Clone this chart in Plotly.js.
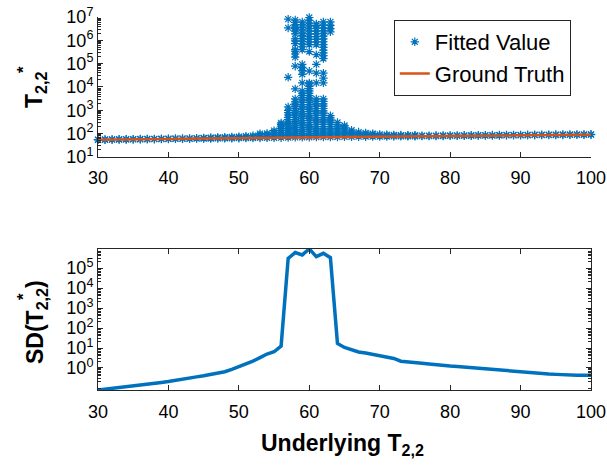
<!DOCTYPE html>
<html>
<head>
<meta charset="utf-8">
<script src="https://cdn.plot.ly/plotly-3.0.1.min.js"></script>
<style>
  html, body { margin: 0; padding: 0; background: #fff; }
  #chart { width: 607px; height: 468px; }
</style>
</head>
<body>
<div id="chart"></div>
<script>
// Underlying T2,2 values (one column of fits per value)
const underlying = [30,31,32,33,34,35,36,37,38,39,40,41,42,43,44,45,46,47,48,49,
  50,51,52,53,54,55,56,57,58,59,60,61,62,63,64,65,66,67,68,69,
  70,71,72,73,74,75,76,77,78,79,80,81,82,83,84,85,86,87,88,89,
  90,91,92,93,94,95,96,97,98,99,100];

// Fitted T*2,2 values for each underlying value
const fittedValues = [
  [54,56],[54.5,56.5],[55,57],[55.5,57.5],[56,58],[56.5,58.5],[57,59],[57.5,59.5],[58,60],[58.5,60.5],
  [59,61.5],[59.5,62],[60,62.5],[60.5,63],[61,64],[61.5,64,66],[62,65,67],[62.5,65,69],[63,66,71],[63.5,67,72],
  [64,68,74],[64.5,70,78],[65,72,82],[65.5,75,88,100],[66,76,90,102],[66.5,78,95,115,135],
  [67,80,95,115,140,170,210,250,290],
  [68,80,95,115,140,170,210,260,320,400,500,630,800,1000,1400,2.6e4,3.4e6,8.1e6],
  [69,82,100,120,145,180,220,270,330,400,500,620,780,950,1200,1500,1850,2300,3100,8300,7.8e4,
   1.9e5,2.6e5,3.4e5,4.0e5,7.2e5,9.5e5,1.15e6,1.9e6,2.5e6,3.2e6,3.7e6,4.6e6,5.8e6,7.4e6],
  [70,85,100,125,150,185,230,290,360,450,560,700,880,1100,1400,1750,2200,2800,3500,4400,5500,6800,
   1.5e4,3.5e4,5e4,7e4,9.3e4,4e5,5.3e5,7e5,9e5,1.2e6,1.6e6,2.1e6,2.8e6,3.6e6,4.7e6,6.2e6],
  [70,85,100,125,155,190,240,300,370,460,580,720,900,1130,1400,1750,2200,2750,3450,4300,5400,6800,8500,1.07e4,1.35e4,
   1.5e4,4.8e4,3.3e5,6.6e5,8.5e5,1.1e6,1.45e6,1.9e6,2.5e6,3.2e6,4.2e6,5.5e6,7.2e6,9.5e6],
  [71,86,105,130,160,200,250,310,390,490,610,760,950,1200,1500,1900,2400,3100,
   1.5e4,3.9e4,9.3e4,2.45e5,6.6e5,8.5e5,1.1e6,1.45e6,1.9e6,2.5e6,3.3e6,4.3e6,5e6],
  [71,87,105,130,160,200,250,310,390,490,610,760,950,1200,1500,1900,2400,3100,
   1.5e4,2.4e4,3.9e4,1.66e5,2.2e5,2.9e5,3.8e5,5e5,6.6e5,8.7e5,1.15e6,1.5e6,2e6,2.6e6,3.4e6,4.5e6,6.2e6],
  [72,88,108,130,160,200,250,310,380,470,590,2.3e6,3.2e6,4.4e6,6.2e6],
  [72,88,108,130,160,200,245,300],
  [73,88,108,130,160,190,224],
  [73,86,102,120,140],
  [74,86,100,117],
  [74,85,96,107],
  [75,85,95,100],
  [75,84,93],[75.5,83,90],[76,82,88],[76.5,82,87],[77,82,86],[77.5,82,86],
  [78,82],[78.5,82.5],[79,83],[79.5,83.5],[80,84],[80.5,84.5],[81,85],[81.5,85.5],[82,86],[82.5,86.5],
  [83,87],[83.5,87.5],[84,88],[84.5,88.5],[85,89],[85.5,89.5],[86,90],[86.5,90.5],[87,91],[87.5,91.5],
  [88,92],[88.5,92.5],[89,93],[89.5,93.5],[90,94]
];

// Ground truth line
const truthX = [30,40,50,60,70,80,90,100];
const truthY = [55,60,65,70,75,80,85,90];

// Standard deviation of the fitted values
const sdValues = [0.079,0.088,0.097,0.107,0.117,0.13,0.14,0.155,0.17,0.19,
  0.21,0.235,0.27,0.31,0.36,0.41,0.47,0.54,0.65,0.85,
  1.16,1.6,2.2,3.3,5.0,6.5,12.6,3.0e5,5.9e5,4.5e5,
  9.0e5,3.7e5,5.4e5,3.3e5,17,10.7,7.9,6.3,5.6,4.8,
  4.2,3.5,3.0,2.2,2.1,2.0,1.75,1.6,1.45,1.35,
  1.26,1.2,1.12,1.05,0.98,0.85,0.82,0.78,0.74,0.7,
  0.66,0.6,0.54,0.53,0.5,0.48,0.45,0.43,0.43,0.43,0.43];

const xTicks = [30,40,50,60,70,80,90,100];
const topTickVals = [1e1,1e2,1e3,1e4,1e5,1e6,1e7];
const topTickText = ['10<sup>1</sup>','10<sup>2</sup>','10<sup>3</sup>','10<sup>4</sup>','10<sup>5</sup>','10<sup>6</sup>','10<sup>7</sup>'];
const sdTickVals = [1e0,1e1,1e2,1e3,1e4,1e5];
const sdTickText = ['10<sup>0</sup>','10<sup>1</sup>','10<sup>2</sup>','10<sup>3</sup>','10<sup>4</sup>','10<sup>5</sup>'];

// minor log ticks (2..9 within each decade) between lo and hi
function logMinorTicks(lo, hi) {
  const out = [];
  for (let e = Math.floor(Math.log10(lo)); e <= Math.ceil(Math.log10(hi)); e++) {
    for (let m = 2; m <= 9; m++) {
      const v = m * Math.pow(10, e);
      if (v >= lo && v <= hi) out.push(v);
    }
  }
  return out;
}

const blue = '#0072BD';
const orange = '#D95319';
const axisColor = '#262626';
const fontFamily = '"Liberation Sans", Arial, Helvetica, sans-serif';

const scatterX = [];
const scatterY = [];
underlying.forEach((u, i) => {
  fittedValues[i].forEach(v => { scatterX.push(u); scatterY.push(v); });
});

const traces = [
  {
    x: scatterX, y: scatterY, type: 'scatter', mode: 'markers', name: 'Fitted Value',
    xaxis: 'x', yaxis: 'y', cliponaxis: false,
    marker: { symbol: 'asterisk-open', size: 7, color: blue, line: { color: blue, width: 1.2 } }
  },
  {
    x: truthX, y: truthY, type: 'scatter', mode: 'lines', name: 'Ground Truth',
    xaxis: 'x', yaxis: 'y', line: { color: orange, width: 2.5 }
  },
  {
    x: underlying, y: sdValues, type: 'scatter', mode: 'lines', showlegend: false,
    xaxis: 'x2', yaxis: 'y2', line: { color: blue, width: 3.5 }
  }
];

const axisCommon = {
  showgrid: false, zeroline: false, showline: true, linecolor: axisColor, linewidth: 1,
  ticks: 'inside', tickcolor: axisColor, tickwidth: 1,
  tickfont: { family: fontFamily, size: 18, color: '#000' }
};

const layout = {
  width: 607, height: 468,
  margin: { l: 98, r: 16, t: 17, b: 78 },
  paper_bgcolor: '#fff', plot_bgcolor: '#fff',
  font: { family: fontFamily, color: '#000' },
  showlegend: true,
  legend: {
    x: 0.6, y: 0.992, xanchor: 'left', yanchor: 'top',
    bgcolor: '#fff', bordercolor: axisColor, borderwidth: 1,
    font: { family: fontFamily, size: 22, color: '#000' },
    tracegroupgap: 0
  },
  xaxis: Object.assign({}, axisCommon, {
    domain: [0, 1], anchor: 'y', range: [30, 100],
    tickmode: 'array', tickvals: xTicks, ticklen: 5, ticklabelstandoff: 4
  }),
  yaxis: Object.assign({}, axisCommon, {
    domain: [0.6247, 1], anchor: 'x', type: 'log', range: [1, 7],
    tickmode: 'array', tickvals: topTickVals, ticktext: topTickText, ticklen: 5,
    minor: { tickmode: 'array', tickvals: logMinorTicks(10, 1e7), ticks: 'inside', ticklen: 3, tickcolor: axisColor }
  }),
  xaxis2: Object.assign({}, axisCommon, {
    domain: [0, 1], anchor: 'y2', range: [30, 100], mirror: 'ticks',
    tickmode: 'array', tickvals: xTicks, ticklen: 5, ticklabelstandoff: 5
  }),
  yaxis2: Object.assign({}, axisCommon, {
    domain: [0, 0.378], anchor: 'x2', type: 'log', range: [-1.1, 5.95], mirror: 'ticks',
    tickmode: 'array', tickvals: sdTickVals, ticktext: sdTickText, ticklen: 5,
    minor: { tickmode: 'array', tickvals: logMinorTicks(0.08, 8.9e5), ticks: 'inside', ticklen: 3, tickcolor: axisColor }
  }),
  annotations: [
    {
      xref: 'paper', yref: 'paper', x: (35 - 98) / 493, y: (390 - 90) / 373,
      text: 'T<sub>2,2</sub>', textangle: -90, showarrow: false,
      xanchor: 'center', yanchor: 'middle',
      font: { family: fontFamily, size: 23, weight: 'bold', color: '#000' }
    },
    {
      xref: 'paper', yref: 'paper', x: (23 - 98) / 493, y: (390 - 70) / 373,
      text: '*', textangle: -90, showarrow: false,
      xanchor: 'center', yanchor: 'middle',
      font: { family: fontFamily, size: 17, weight: 'bold', color: '#000' }
    },
    {
      xref: 'paper', yref: 'paper', x: (36 - 98) / 493, y: (390 - 322) / 373,
      text: 'SD(T<sub>2,2</sub>)', textangle: -90, showarrow: false,
      xanchor: 'center', yanchor: 'middle',
      font: { family: fontFamily, size: 23, weight: 'bold', color: '#000' }
    },
    {
      xref: 'paper', yref: 'paper', x: (23 - 98) / 493, y: (390 - 297) / 373,
      text: '*', textangle: -90, showarrow: false,
      xanchor: 'center', yanchor: 'middle',
      font: { family: fontFamily, size: 17, weight: 'bold', color: '#000' }
    },
    {
      xref: 'paper', yref: 'paper', x: (342 - 98) / 493, y: (390 - 445) / 373,
      text: 'Underlying T<sub>2,2</sub>', showarrow: false,
      xanchor: 'center', yanchor: 'middle',
      font: { family: fontFamily, size: 23, weight: 'bold', color: '#000' }
    }
  ]
};

Plotly.newPlot('chart', traces, layout, { displayModeBar: false, staticPlot: true });
</script>
</body>
</html>
